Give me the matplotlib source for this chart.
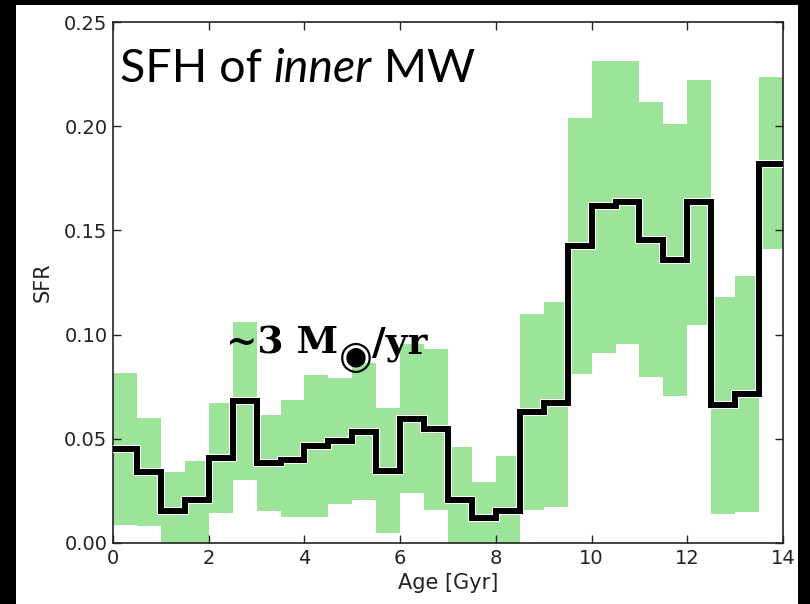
import numpy as np
import matplotlib
matplotlib.use('Agg')
import matplotlib.pyplot as plt
import matplotlib.patheffects as pe
from matplotlib.patches import Rectangle

# star formation history of the inner disc, 0.5 Gyr bins
age_edges = np.arange(0, 14.5, 0.5)
sfr = [0.045, 0.034, 0.0155, 0.0205, 0.041, 0.068, 0.0385, 0.040, 0.0465, 0.049,
       0.0535, 0.0345, 0.0595, 0.0545, 0.0205, 0.012, 0.0155, 0.063, 0.067, 0.1425,
       0.1615, 0.1635, 0.1455, 0.136, 0.1635, 0.066, 0.0715, 0.182]
sfr_hi = [0.0817, 0.0598, 0.0339, 0.0393, 0.067, 0.1062, 0.0614, 0.0686, 0.0806, 0.079,
          0.0865, 0.0649, 0.0953, 0.0931, 0.0459, 0.0291, 0.0417, 0.110, 0.1155, 0.2041,
          0.2314, 0.2314, 0.2115, 0.201, 0.2222, 0.1179, 0.1282, 0.2238]
sfr_lo = [0.0086, 0.0082, 0.0, 0.0, 0.0142, 0.0302, 0.0155, 0.0126, 0.0123, 0.0187,
          0.0206, 0.0047, 0.0241, 0.0158, 0.0, 0.0, 0.0, 0.016, 0.0175, 0.081,
          0.091, 0.0955, 0.0795, 0.0705, 0.1045, 0.014, 0.015, 0.1409]

xticks = [0, 2, 4, 6, 8, 10, 12, 14]
yticks = [0.00, 0.05, 0.10, 0.15, 0.20, 0.25]

W, H = 810, 604
fig = plt.figure(figsize=(W/100, H/100), dpi=100, facecolor='black')
# white panel on the dark slide
fig.patches.append(Rectangle((16/W, 0), (798-16)/W, (H-5)/H, transform=fig.transFigure,
                             facecolor='white', edgecolor='none', zorder=-10))

ax = fig.add_axes([113/W, 1-543/H, (783-113)/W, (543-22)/H])
ax.stairs(sfr_hi, age_edges, baseline=sfr_lo, fill=True, color='#9ce49a', zorder=1)
ax.stairs(sfr, age_edges, baseline=None, color='black', lw=4.3, zorder=3,
          path_effects=[pe.Stroke(linewidth=5.8, foreground='white'), pe.Normal()])

ax.set_xlim(0, 14)
ax.set_ylim(0, 0.25)
ax.set_xticks(xticks)
ax.set_yticks(yticks)
ax.set_yticklabels(['%.2f' % v for v in yticks])
ax.tick_params(direction='in', top=True, right=True, length=6, width=1,
               labelsize=14, pad=4, colors='#222222')
for s in ax.spines.values():
    s.set_linewidth(1.2)
    s.set_color('#222222')
ax.set_xlabel('Age [Gyr]', fontsize=15, color='#222222', labelpad=4)
ax.set_ylabel('SFR', fontsize=15, color='#222222', labelpad=8)

fig.canvas.draw()
renderer = fig.canvas.get_renderer()


def put_pieces(x_px, y_px, pieces):
    # lay out text pieces one after another along a common baseline
    for s, kw in pieces:
        dy = kw.pop('dy', 0)
        dx = kw.pop('dx', 0)
        t = fig.text((x_px+dx)/W, (H-y_px-dy)/H, s, va='baseline', ha='left', zorder=5, **kw)
        x_px = t.get_window_extent(renderer).x1 + dx


title_kw = dict(fontsize=33.5, family='Lato', color='black')
put_pieces(120, 82, [('SFH of ', dict(title_kw)),
                     ('inner', dict(title_kw, style='italic')),
                     (' MW', dict(title_kw))])

rate_kw = dict(fontsize=27, family='DejaVu Serif', weight='bold', color='black')
put_pieces(226, 354, [('~3 M', dict(rate_kw)),
                      ('\u25c9', dict(fontsize=28, family='DejaVu Sans', color='black', dy=14, dx=1)),
                      ('/yr', dict(rate_kw, dx=-2))])

fig.savefig('out.png', dpi=100, facecolor='black')
